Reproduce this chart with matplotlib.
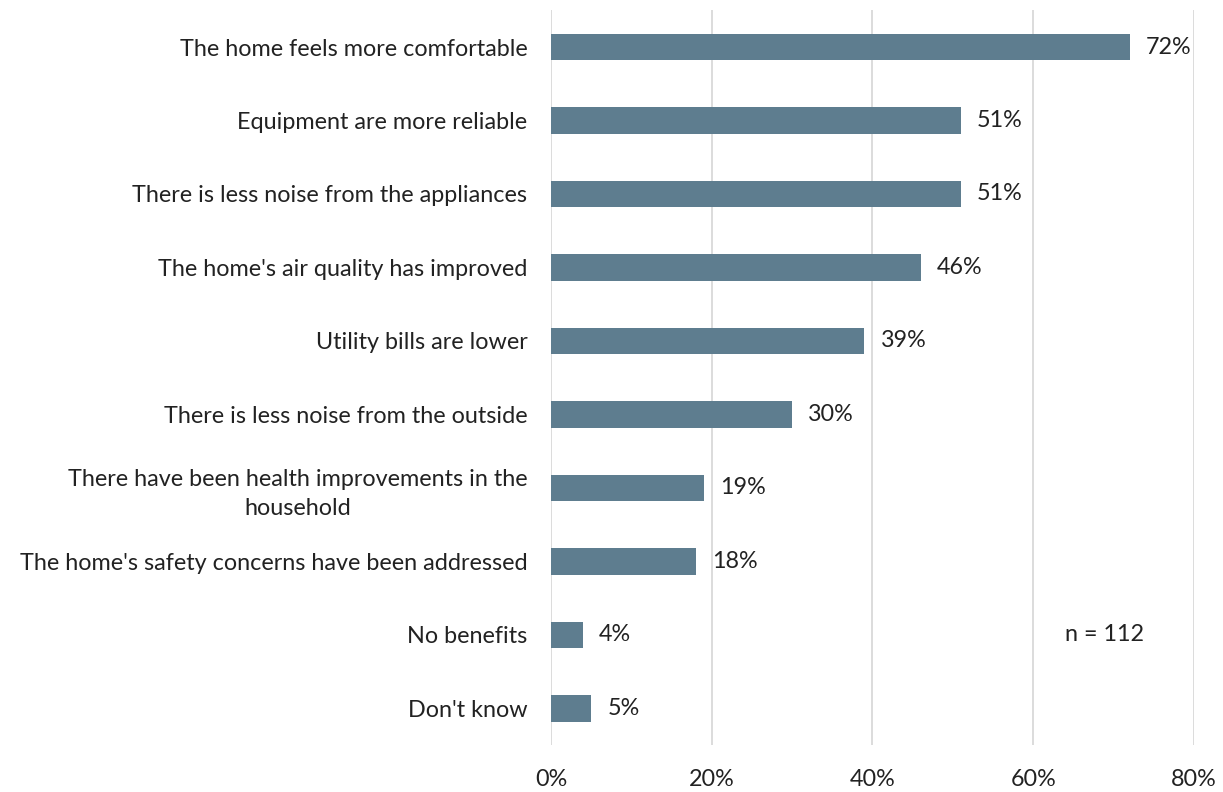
import matplotlib.pyplot as plt

# survey results, share of respondents (%)
benefits = [
    "The home feels more comfortable",
    "Equipment are more reliable",
    "There is less noise from the appliances",
    "The home's air quality has improved",
    "Utility bills are lower",
    "There is less noise from the outside",
    "There have been health improvements in the\nhousehold",
    "The home's safety concerns have been addressed",
    "No benefits",
    "Don't know",
]
shares = [72, 51, 51, 46, 39, 30, 19, 18, 4, 5]
x_ticks = [0, 20, 40, 60, 80]
x_labels = ["0%", "20%", "40%", "60%", "80%"]
sample_note = "n = 112"

plt.rcParams['font.family'] = ['Lato', 'DejaVu Sans']
text_color = '#222222'
fs = 16.8

fig = plt.figure(figsize=(12.23, 7.92), dpi=100)
ax = fig.add_axes([0.4505, 0.0593, 0.5258, 0.9277])

pos = list(range(len(benefits)))
ax.barh(pos, shares, height=0.36, color='#5E7D8F', zorder=3)

for y, v in zip(pos, shares):
    ax.text(v + 2.0, y, f"{v}%", va='center', ha='left', fontsize=fs, color=text_color)

ax.text(68.9, 8, sample_note, ha='center', va='center', fontsize=fs, color=text_color)

ax.set_xlim(0, 80)
ax.set_ylim(len(benefits) - 0.5, -0.5)
ax.set_xticks(x_ticks)
ax.set_xticklabels(x_labels, fontsize=fs, color=text_color)
ax.set_yticks(pos)
ax.set_yticklabels(benefits, fontsize=fs, color=text_color,
                   multialignment='center', linespacing=1.45)
ax.tick_params(axis='both', length=0)
ax.tick_params(axis='x', pad=17)
ax.tick_params(axis='y', pad=17)

ax.grid(axis='x', color='#D9D9D9', linewidth=1.3, zorder=0)
for s in ax.spines.values():
    s.set_visible(False)

fig.savefig('out.png', dpi=100)
